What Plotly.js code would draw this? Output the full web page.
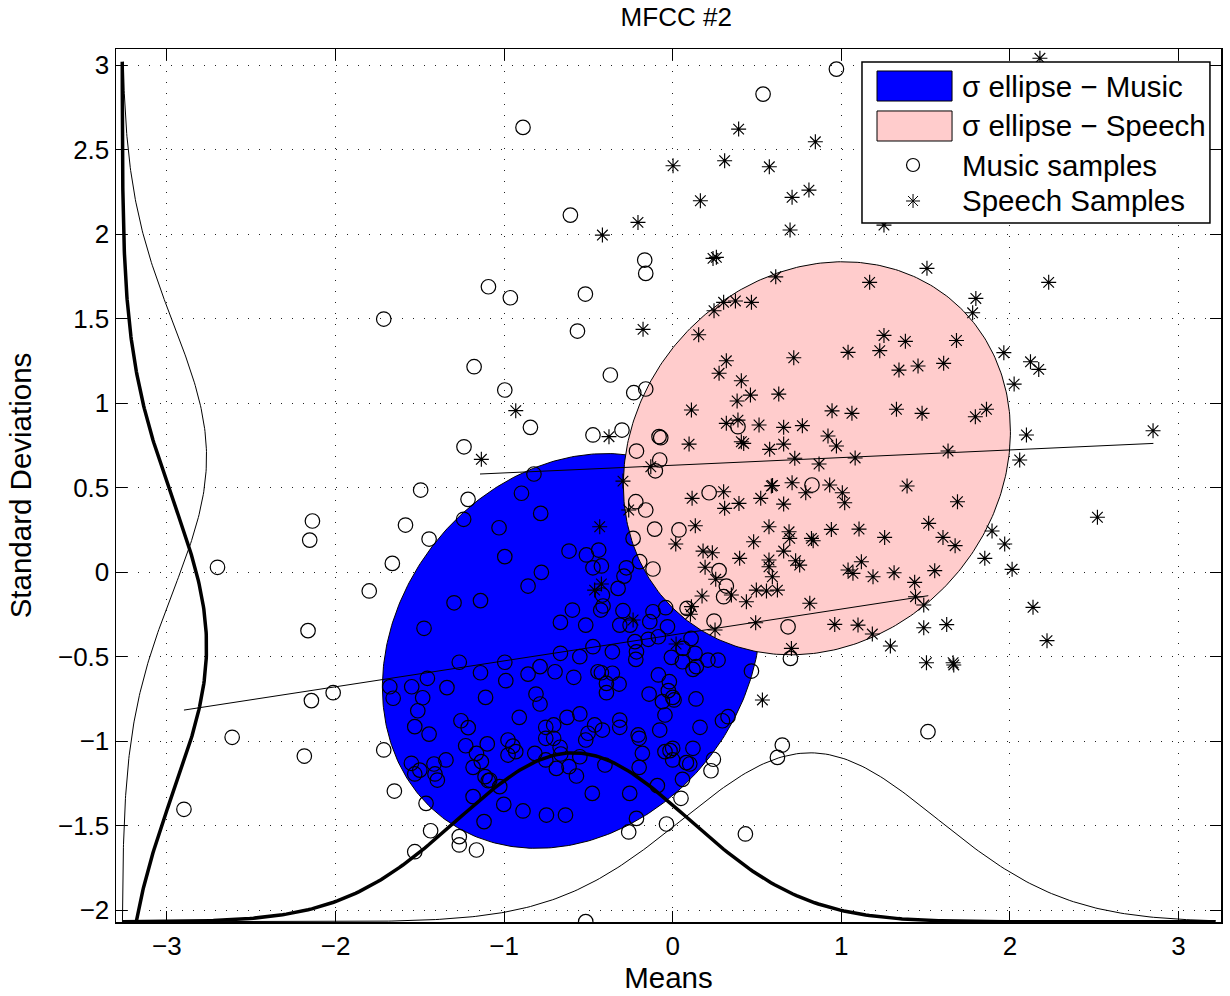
<!DOCTYPE html>
<html><head><meta charset="utf-8">
<script src="https://cdn.plot.ly/plotly-3.0.1.min.js"></script>
<style>html,body{margin:0;padding:0;background:#fff}</style>
</head><body><div id="chart" style="width:1230px;height:996px"></div>
<script>
// ---- Music samples (circles): mean (x) and standard deviation (y) ----
const musicMeans = [-1.714,-1.093,0.971,0.536,-0.888,-0.607,-0.166,-0.160,-0.963,-0.518,-0.565,-1.178,-0.370,-0.996,-0.231,-0.160,-0.844,-0.473,-0.301,-0.081,-0.071,-0.215,-0.077,-0.103,-0.219,-0.160,-0.107,0.037,0.216,0.826,0.387,-0.235,-0.196,-0.117,-0.823,-0.897,-0.783,-1.030,-0.996,-0.779,-0.858,-0.615,-0.512,-0.439,-0.473,-0.423,-0.275,-0.289,-0.324,-0.417,-0.413,-0.427,-0.595,-1.140,-0.666,-0.516,-0.295,-0.117,-0.042,-0.136,-0.314,-0.253,-0.031,0.085,0.245,0.275,0.318,0.302,0.684,-1.238,-1.495,-1.214,-1.240,-1.585,-1.445,-2.137,-2.153,-2.700,-1.663,-1.800,-1.297,-2.163,-1.475,0.698,0.467,0.109,-0.996,-1.140,-0.990,-1.110,-0.858,-0.787,-0.698,-0.666,-0.587,-0.551,-0.473,-0.358,-0.443,-0.423,-0.358,-0.393,-0.393,-0.318,-0.224,-0.215,-0.219,-0.145,-0.085,-0.008,0.058,0.120,0.140,0.209,0.269,0.132,0.061,-0.085,-0.020,-0.026,0.000,0.008,-0.140,-0.061,-0.046,0.138,0.162,0.295,0.328,-0.077,0.120,0.000,-0.016,-0.180,-0.205,-0.199,-0.314,-0.314,-0.417,-0.463,-0.502,-0.516,-0.551,-0.627,-0.706,-0.753,-0.753,-0.706,-0.668,-0.910,-0.811,-0.787,-0.977,-0.948,-0.977,-0.931,-0.818,-0.753,-0.690,-0.615,-0.571,-0.551,-0.664,-0.402,-0.199,-0.046,0.000,0.081,0.101,0.058,0.241,0.227,0.650,0.621,0.049,-0.037,-0.215,-0.261,-0.255,-0.091,-0.477,-1.002,-1.119,-0.888,-0.749,-0.636,-1.026,-1.085,0.431,-0.516,-1.266,-1.455,-1.548,-1.678,-1.658,-1.339,-1.483,-1.512,-1.530,-1.445,-1.256,-1.213,-1.228,-1.164,-1.135,-1.100,-1.550,-1.500,-1.530,-1.416,-1.410,-1.396,-1.345,-1.184,-1.113,-1.094,-1.184,-1.463,-1.436,-1.266,-1.266,-1.164,-1.530,-1.651,-1.714,-2.014,-2.143,-2.613,-2.185,-2.899,1.514];
const musicStds = [1.497,1.688,2.976,2.828,2.631,2.112,1.846,1.767,1.623,1.645,1.426,1.215,1.166,1.077,1.061,1.083,0.856,0.811,0.840,0.801,0.795,0.716,0.663,0.599,0.416,0.367,0.254,0.249,0.469,0.515,0.860,0.199,0.061,0.018,0.580,0.466,0.347,0.262,0.091,-0.002,-0.083,0.124,0.101,0.130,0.025,0.036,0.025,-0.024,-0.097,-0.136,-0.201,-0.225,-0.225,-0.169,-0.298,-0.314,-0.229,-0.235,-0.211,-0.294,-0.314,-0.314,-0.324,-0.215,-0.290,0.008,-0.083,-0.146,-0.324,0.741,0.485,0.430,0.312,0.278,0.195,0.302,0.189,0.028,0.051,-0.112,-0.182,-0.347,-0.333,-0.511,-0.586,-0.393,-0.534,-0.596,-0.643,-0.742,-0.604,-0.560,-0.590,-0.481,-0.623,-0.501,-0.442,-0.472,-0.590,-0.596,-0.599,-0.659,-0.714,-0.663,-0.412,-0.472,-0.517,-0.398,-0.383,-0.505,-0.531,-0.576,-0.560,-0.521,-0.521,-0.481,-0.452,-0.609,-0.649,-0.702,-0.742,-0.757,-0.722,-0.767,-0.846,-0.751,-0.919,-0.880,-0.856,-0.935,-1.043,-1.043,-1.057,-1.073,-0.964,-0.984,-0.876,-0.919,-0.935,-0.905,-0.954,-0.994,-0.840,-0.860,-0.905,-0.919,-0.984,-0.984,-1.037,-0.860,-0.722,-0.781,-0.994,-1.030,-1.083,-1.063,-1.073,-1.112,-1.162,-1.152,-1.207,-1.093,-1.077,-1.142,-1.156,-1.063,-1.112,-1.128,-1.136,-1.227,-1.108,-1.176,-1.024,-1.097,-1.339,-1.491,-1.458,-1.538,-1.310,-1.264,-1.310,-1.375,-1.477,-1.414,-1.438,-1.438,-1.270,-1.231,-1.550,-2.069,-0.534,-0.629,-0.679,-0.679,-0.747,-0.684,-0.744,-0.821,-0.915,-0.959,-0.880,-0.921,-1.028,-1.073,-1.122,-1.017,-1.132,-1.172,-1.195,-1.136,-1.195,-1.231,-1.112,-1.156,-1.211,-1.235,-1.329,-1.369,-1.531,-1.566,-1.615,-1.645,-1.655,-1.296,-1.053,-0.714,-0.761,-0.978,-1.089,-1.404,-0.945];

// ---- Speech samples (asterisks) ----
const speechMeans = [2.178,0.391,0.846,0.002,0.308,0.573,0.164,0.708,0.808,0.696,-0.417,-0.206,0.239,0.259,-0.176,0.611,0.302,0.372,0.467,0.245,0.154,1.253,1.508,1.168,2.230,1.798,1.779,1.253,1.380,1.683,1.228,1.342,1.455,1.607,1.040,1.964,2.122,2.171,2.025,1.327,1.479,1.795,1.861,1.063,2.098,2.849,1.082,1.633,2.058,1.390,1.689,1.105,1.257,1.518,1.603,1.675,1.894,1.969,1.851,2.013,2.519,1.119,1.069,1.188,1.313,1.554,1.435,1.440,1.489,2.137,1.099,1.489,1.625,1.184,1.291,2.220,1.505,1.663,1.667,-0.931,-0.378,-0.130,-1.135,-0.295,-0.261,-0.433,-0.423,-0.463,-0.235,0.111,0.105,0.174,0.348,0.437,0.496,0.556,0.621,0.813,0.492,0.961,0.255,0.180,0.235,0.192,0.397,0.571,0.571,0.591,0.658,0.480,0.571,0.690,0.694,0.729,0.753,0.823,0.833,0.941,1.040,0.018,0.134,0.115,0.302,0.308,0.393,0.522,0.585,0.592,0.658,0.708,0.789,0.931,1.006,1.020,0.724,0.868,0.111,0.097,0.318,0.387,0.407,0.421,0.512,0.658,0.769,0.658,0.575,0.921,0.971,0.945,0.382,0.461,0.629,0.407,0.275,0.318,0.718,0.251,0.704,0.532,0.020];
const speechStds = [3.040,2.621,2.546,2.404,2.434,2.398,2.197,2.217,2.260,2.024,1.994,2.069,1.856,1.862,1.436,1.747,1.596,1.604,1.596,1.546,1.404,2.053,1.797,1.714,1.714,1.619,1.534,1.400,1.365,1.370,1.310,1.195,1.219,1.235,1.300,1.298,1.244,1.199,1.112,0.963,0.939,0.919,0.963,0.939,0.811,0.836,0.675,0.716,0.663,0.509,0.416,0.254,0.205,0.288,0.205,0.156,0.243,0.166,0.081,0.016,0.324,0.061,-0.008,-0.028,-0.004,0.008,-0.061,-0.146,-0.195,-0.209,-0.314,-0.330,-0.311,-0.367,-0.438,-0.406,-0.537,-0.537,-0.550,0.955,0.801,0.623,0.667,0.538,0.367,0.268,-0.071,-0.107,-0.284,-0.205,-0.250,-0.142,-0.136,-0.176,-0.107,-0.112,-0.107,-0.185,-0.300,-0.310,-0.043,0.124,0.114,0.028,0.081,0.071,0.031,-0.028,0.124,0.179,0.268,0.238,0.199,0.067,0.041,0.199,0.185,0.252,0.012,0.166,0.274,0.436,0.475,0.377,0.406,0.436,0.509,0.512,0.402,0.528,0.469,0.515,0.469,0.410,0.673,0.639,0.959,0.757,0.880,0.899,0.771,0.761,0.870,0.856,0.866,0.757,0.726,0.805,0.746,0.954,1.012,1.047,1.053,1.132,1.176,1.250,1.268,-0.343,-0.452,-0.757,-0.426];

// ---- sigma ellipses [Music, Speech]: centre, half-extent, correlation ----
const ellipseNames = ['σ ellipse − Music', 'σ ellipse − Speech'];
const ellipseCenterX = [-0.600, 0.855];
const ellipseCenterY = [-0.467, 0.673];
const ellipseHalfX = [1.122, 1.148];
const ellipseHalfY = [1.168, 1.163];
const ellipseCorr = [0.184, 0.135];
const ellipseColors = ['#0000ff', '#ffcccc'];

// ---- regression lines [Music, Speech] ----
const musicLineX = [-2.899, 1.516];
const musicLineY = [-0.817, -0.140];
const speechLineX = [-1.143, 2.851];
const speechLineY = [0.580, 0.761];

// ---- marginal gaussians [Music, Speech] ----
const meanPdfCenter = [-0.589, 0.815];
const meanPdfSd = [0.685, 0.757];
const meanPdfBase = -2.07, meanPdfHeight = 1.0, meanPdfRange = [-3.265, 3.22];
const stdPdfCenter = [-0.44, 0.68];
const stdPdfSd = [0.86, 0.79];
const stdPdfBase = -3.265, stdPdfWidth = 0.5, stdPdfRange = [-2.07, 3.02];
const pdfLineWidths = [3.5, 1];

const FONT = 'Liberation Sans, Arial, Helvetica, sans-serif';

function ellipse(i) {
  const xs = [], ys = [], r = ellipseCorr[i], q = Math.sqrt(1 - r * r);
  for (let k = 0; k <= 360; k++) {
    const t = k * Math.PI / 180;
    xs.push(ellipseCenterX[i] + ellipseHalfX[i] * Math.cos(t));
    ys.push(ellipseCenterY[i] + ellipseHalfY[i] * (r * Math.cos(t) + q * Math.sin(t)));
  }
  return {xs, ys};
}
function pdf(center, sd, range, n) {
  const u = [], v = [];
  for (let k = 0; k <= n; k++) {
    const p = range[0] + (range[1] - range[0]) * k / n;
    u.push(p); v.push(Math.exp(-Math.pow(p - center, 2) / (2 * sd * sd)));
  }
  return {u, v};
}

const traces = [];
for (let i = 0; i < 2; i++) {
  const e = ellipse(i);
  traces.push({x: e.xs, y: e.ys, type: 'scatter', mode: 'lines', fill: 'toself',
    fillcolor: ellipseColors[i], line: {color: '#000', width: 1}, name: ellipseNames[i], hoverinfo: 'skip'});
}
traces.push({x: musicLineX, y: musicLineY, type: 'scatter', mode: 'lines', line: {color: '#000', width: 1}, hoverinfo: 'skip'});
traces.push({x: speechLineX, y: speechLineY, type: 'scatter', mode: 'lines', line: {color: '#000', width: 1}, hoverinfo: 'skip'});
traces.push({x: musicMeans, y: musicStds, type: 'scatter', mode: 'markers', name: 'Music samples',
  marker: {symbol: 'circle-open', size: 14.5, color: '#000', line: {color: '#000', width: 1.2}}});
traces.push({x: speechMeans, y: speechStds, type: 'scatter', mode: 'markers', name: 'Speech Samples',
  marker: {symbol: 'asterisk-open', size: 12.5, color: '#000', line: {color: '#000', width: 1.15}}});
for (let i = 0; i < 2; i++) {
  const b = pdf(meanPdfCenter[i], meanPdfSd[i], meanPdfRange, 300);
  traces.push({x: b.u, y: b.v.map(w => meanPdfBase + meanPdfHeight * w), type: 'scatter', mode: 'lines',
    line: {color: '#000', width: pdfLineWidths[i]}, hoverinfo: 'skip'});
  const l = pdf(stdPdfCenter[i], stdPdfSd[i], stdPdfRange, 300);
  traces.push({x: l.v.map(w => stdPdfBase + stdPdfWidth * w), y: l.u, type: 'scatter', mode: 'lines',
    line: {color: '#000', width: pdfLineWidths[i]}, hoverinfo: 'skip'});
}

// legend (drawn as layout items over the axes)
const L = {x0: 0.6751, x1: 0.9900, y0: 0.8007, y1: 0.9851, sw0: 0.6887, sw1: 0.7566,
  rows: [0.9576, 0.9118, 0.8671, 0.8259], glyphX: 0.7213, textX: 0.7638};
const shapes = [
  {type: 'rect', xref: 'paper', yref: 'paper', x0: L.x0, x1: L.x1, y0: L.y0, y1: L.y1, fillcolor: '#fff', line: {color: '#000', width: 1.5}},
  {type: 'rect', xref: 'paper', yref: 'paper', x0: L.sw0, x1: L.sw1, y0: 0.9404, y1: 0.9748, fillcolor: ellipseColors[0], line: {color: '#000', width: 1}},
  {type: 'rect', xref: 'paper', yref: 'paper', x0: L.sw0, x1: L.sw1, y0: 0.8946, y1: 0.9290, fillcolor: ellipseColors[1], line: {color: '#000', width: 1}},
  {type: 'circle', xref: 'paper', yref: 'paper', xsizemode: 'pixel', ysizemode: 'pixel', xanchor: L.glyphX, yanchor: L.rows[2],
    x0: -6.5, x1: 6.5, y0: -6.5, y1: 6.5, line: {color: '#000', width: 1.2}},
  {type: 'path', xref: 'paper', yref: 'paper', xsizemode: 'pixel', ysizemode: 'pixel', xanchor: L.glyphX, yanchor: L.rows[3],
    path: 'M0,7V-7M7,0H-7M5,5L-5,-5M5,-5L-5,5', line: {color: '#000', width: 1}}
];
const legendTexts = [ellipseNames[0], ellipseNames[1], 'Music samples', 'Speech Samples'];
const annotations = legendTexts.map((t, i) => ({text: t, xref: 'paper', yref: 'paper', x: L.textX, y: L.rows[i],
  xanchor: 'left', yanchor: 'middle', showarrow: false, font: {family: FONT, size: 29.5, color: '#000'}}));

const axisCommon = {showline: true, linecolor: '#000', linewidth: 1.5, mirror: 'ticks', ticks: 'inside', ticklen: 11,
  tickwidth: 1, tickcolor: '#000', showgrid: true, gridcolor: '#222', gridwidth: 1, griddash: '1px,10px',
  zeroline: false, tickfont: {family: FONT, size: 26, color: '#000'}};

const layout = {
  width: 1230, height: 996, margin: {l: 116, r: 9, t: 49, b: 74},
  paper_bgcolor: '#fff', plot_bgcolor: '#fff', showlegend: false,
  font: {family: FONT, color: '#000'},
  title: {text: 'MFCC #2', font: {family: FONT, size: 26, color: '#000'}, x: 0.507, xref: 'paper', y: 0.983, yref: 'container', yanchor: 'middle'},
  xaxis: Object.assign({}, axisCommon, {range: [-3.302, 3.252], tickmode: 'array', tickvals: [-3, -2, -1, 0, 1, 2, 3],
    title: {text: 'Means', font: {family: FONT, size: 29.5, color: '#000'}, standoff: 7}}),
  yaxis: Object.assign({}, axisCommon, {range: [-2.071, 3.095], tickmode: 'linear', tick0: 0, dtick: 0.5,
    title: {text: 'Standard Deviations', font: {family: FONT, size: 29.5, color: '#000'}, standoff: 17}}),
  shapes: shapes, annotations: annotations
};
Plotly.newPlot('chart', traces, layout, {displayModeBar: false, staticPlot: true});
</script></body></html>
